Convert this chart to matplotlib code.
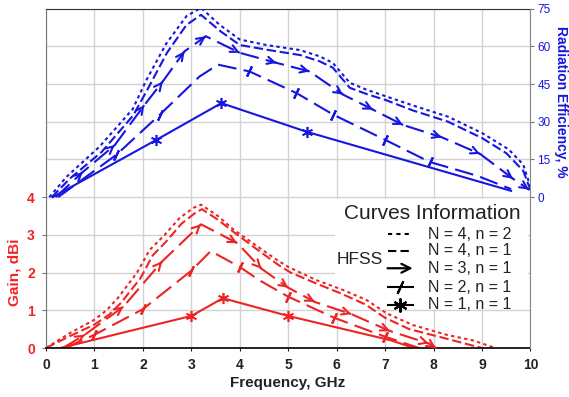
import matplotlib.pyplot as plt
from matplotlib.patches import Rectangle

plt.rcParams['font.family'] = ['Liberation Sans', 'DejaVu Sans']

BLUE = '#1616e0'
RED = '#ee2424'

# ---- radiation efficiency, % (blue, right axis) ----
f_e42 = [0.07, 0.42, 1.1, 1.79, 2.07, 2.48, 2.9, 3.2, 3.58, 4.0, 4.55, 5.24, 5.65, 5.92,
         6.27, 6.62, 7.03, 7.57, 8.3, 9.0, 9.55, 9.85, 10.0]
e_42 = [0, 8, 20, 35, 46.5, 61, 72, 75.3, 68.6, 62.7, 60.5, 58.5, 56, 53.4,
        45.5, 42.7, 40, 36.5, 32, 25.5, 19, 13, 4]
f_e41 = [0.12, 0.5, 1.15, 1.8, 2.1, 2.5, 2.9, 3.2, 3.6, 4.0, 4.6, 5.25, 5.65, 5.92,
         6.27, 6.62, 7.03, 7.57, 8.3, 9.0, 9.5, 9.85, 10.0]
e_41 = [0, 7.5, 18, 32.5, 43, 57.5, 68.5, 72.5, 66, 60.5, 58.5, 56.5, 54, 51.5,
        43.5, 41, 38.5, 34.5, 30, 23.5, 17.5, 10.5, 2.8]
f_e31 = [0.2, 0.76, 1.42, 2.03, 2.41, 2.86, 3.3, 4.0, 4.76, 5.44, 6.13, 6.75, 7.37,
         8.17, 8.96, 9.64, 9.97]
e_31 = [0, 10, 20.7, 36.6, 46, 58, 64, 57.4, 53.4, 50, 40.8, 34.8, 28.7,
        23.8, 17.2, 7.3, 3]
f_e21 = [0.25, 1.45, 2.35, 3.17, 3.55, 4.2, 5.17, 5.93, 7.0, 7.92, 8.9, 9.6]
e_21 = [0, 16.8, 32.8, 48, 52.7, 50, 41.4, 32.8, 22.8, 14, 8.5, 3.2]
f_e11 = [0.14, 2.28, 3.62, 5.38, 9.6]
e_11 = [0, 22.8, 37.4, 26, 2.5]

# ---- gain, dBi (red, left axis) ----
f_g42 = [0, 0.5, 1.0, 1.25, 1.5, 1.88, 2.14, 2.45, 2.76, 3.05, 3.2, 3.55, 3.86, 4.3,
         4.76, 5.0, 5.58, 6.13, 6.62, 7.03, 7.57, 8.27, 8.82, 9.23]
g_42 = [0, 0.4, 0.75, 1.0, 1.35, 2.0, 2.6, 3.0, 3.45, 3.72, 3.8, 3.5, 3.15, 2.75,
        2.34, 2.15, 1.8, 1.54, 1.27, 0.92, 0.61, 0.35, 0.2, 0.02]
f_g41 = [0, 0.5, 1.0, 1.3, 1.55, 1.95, 2.2, 2.5, 2.8, 3.1, 3.22, 3.55, 3.9, 4.35,
         4.8, 5.05, 5.6, 6.1, 6.6, 7.0, 7.5, 8.2, 8.7, 9.0]
g_41 = [0, 0.32, 0.62, 0.88, 1.2, 1.85, 2.45, 2.85, 3.3, 3.6, 3.68, 3.4, 3.05, 2.62,
        2.2, 2.0, 1.7, 1.44, 1.15, 0.8, 0.5, 0.27, 0.1, 0.0]
f_g31 = [0.35, 0.8, 1.6, 2.4, 3.2, 3.95, 4.45, 5.0, 5.55, 6.3, 7.1, 7.9, 8.05]
g_31 = [0, 0.35, 1.1, 2.3, 3.28, 2.78, 2.1, 1.6, 1.22, 0.9, 0.45, 0.12, 0.0]
f_g21 = [0.4, 1.0, 2.0, 3.0, 3.4, 4.0, 4.4, 5.0, 5.95, 7.0, 7.7]
g_21 = [0, 0.35, 1.03, 2.05, 2.57, 2.15, 1.8, 1.36, 0.8, 0.3, 0.0]
f_g11 = [0.3, 1.5, 3.0, 3.65, 5.0, 7.1, 7.6]
g_11 = [0, 0.38, 0.85, 1.32, 0.85, 0.21, 0.0]

legend_labels = ['N = 4, n = 2', 'N = 4, n = 1', 'N = 3, n = 1', 'N = 2, n = 1', 'N = 1, n = 1']

LW = 1.5
DOT = (0, (1.6, 1.6))
DASH = (0, (4.5, 1.8))
LDASH = (0, (9, 3.5))
TICK = (2, 2, -25)
STAR = (6, 2, 0)


def arrowheads(ax, x, y, color):
    for i in range(1, len(x)):
        ax.annotate('', xy=(x[i], y[i]),
                    xytext=(x[i] - 0.02 * (x[i] - x[i - 1]), y[i] - 0.02 * (y[i] - y[i - 1])),
                    arrowprops=dict(arrowstyle='->', color=color, lw=LW, shrinkA=0, shrinkB=0,
                                    mutation_scale=13))


def draw_set(ax, c, d42, d41, d31, d21, d11, m21, m11):
    ax.plot(*d42, color=c, lw=LW, ls=DOT)
    ax.plot(*d41, color=c, lw=LW, ls=DASH)
    ax.plot(*d31, color=c, lw=LW, ls=LDASH)
    arrowheads(ax, d31[0], d31[1], c)
    ax.plot(*d21, color=c, lw=LW, ls=LDASH, marker=TICK, ms=8, mew=LW, markevery=m21)
    ax.plot(*d11, color=c, lw=LW, marker=STAR, ms=8, mew=1.2, markevery=m11)


fig = plt.figure(figsize=(5.69, 3.97), dpi=100)
ax = fig.add_axes([0.0808, 0.1234, 0.8515, 0.855])
ax2 = ax.twinx()

ax.set_xlim(0, 10)
ax.set_ylim(0, 9)
ax2.set_ylim(-60, 75)

ax.set_xticks(range(11))
ax.set_yticks(range(5))
ax.set_yticks(range(5, 10), minor=True)
ax.grid(True, which='both', color='#d2d2d2', lw=1)
ax.set_axisbelow(True)
ax.tick_params(axis='y', which='minor', length=0)
ax.tick_params(axis='x', length=2, pad=5, labelsize=10, colors='#222222')
ax.tick_params(axis='y', which='major', length=3, pad=5, labelsize=10, labelcolor=RED, color='#777777')
for lab in ax.get_xticklabels() + ax.get_yticklabels():
    lab.set_fontweight('bold')

ax2.set_yticks(range(0, 76, 15))
ax2.tick_params(axis='y', length=3, pad=2, labelsize=8.5, labelcolor=BLUE, color='#777777')

for s in ['top', 'left', 'right', 'bottom']:
    ax2.spines[s].set_visible(s == 'right')
ax2.spines['right'].set_color('#888888')
ax.spines['right'].set_visible(False)
ax.spines['top'].set_color('#333333')
ax.spines['left'].set_color('#777777')
ax.spines['bottom'].set_color('#111111')
ax.spines['bottom'].set_linewidth(1.3)

# legend box (hides the grid behind it)
ax.add_patch(Rectangle((0.596, 0.115), 0.399, 0.324, transform=ax.transAxes,
                       facecolor='white', edgecolor='none', zorder=1.5))

draw_set(ax, RED, (f_g42, g_42), (f_g41, g_41), (f_g31, g_31), (f_g21, g_21), (f_g11, g_11),
         [1, 2, 3, 5, 7, 8, 9], [2, 3, 4])
draw_set(ax2, BLUE, (f_e42, e_42), (f_e41, e_41), (f_e31, e_31), (f_e21, e_21), (f_e11, e_11),
         [1, 2, 5, 6, 7, 8, 9], [1, 2, 3])

# legend ("Curves Information")
ax.text(0.797, 0.395, 'Curves Information', transform=ax.transAxes, ha='center', va='center',
        fontsize=15, color='#222222', zorder=5)
ax.text(0.600, 0.262, 'HFSS', transform=ax.transAxes, ha='left', va='center',
        fontsize=12.5, color='#222222', zorder=5)
rows = [0.335, 0.286, 0.235, 0.179, 0.127]
kx = [0.705, 0.757]
for y, lab in zip(rows, legend_labels):
    ax.text(0.788, y, lab, transform=ax.transAxes, ha='left', va='center',
            fontsize=11.5, color='#222222', zorder=5)
ax.plot(kx, [rows[0]] * 2, transform=ax.transAxes, color='k', lw=1.5, ls=(0, (2, 2)), zorder=5)
ax.plot(kx, [rows[1]] * 2, transform=ax.transAxes, color='k', lw=1.5, ls=(0, (4, 2)), zorder=5)
ax.annotate('', xy=(kx[1], rows[2]), xytext=(kx[0], rows[2]), xycoords='axes fraction',
            arrowprops=dict(arrowstyle='->', color='k', lw=1.6, shrinkA=0, shrinkB=0,
                            mutation_scale=16), zorder=5)
ax.plot(kx, [rows[3]] * 2, transform=ax.transAxes, color='k', lw=1.5, zorder=5)
ax.plot([sum(kx) / 2], [rows[3]], transform=ax.transAxes, color='k', marker=TICK, ms=10,
        mew=1.5, zorder=5)
ax.plot(kx, [rows[4]] * 2, transform=ax.transAxes, color='k', lw=1.5, zorder=5)
ax.plot([sum(kx) / 2], [rows[4]], transform=ax.transAxes, color='k', marker=STAR, ms=10,
        mew=1.5, zorder=5)

# axis titles
ax.text(-0.065, 0.224, 'Gain, dBi', transform=ax.transAxes, rotation=90, ha='center',
        va='center', color=RED, fontsize=11, fontweight='bold')
ax2.text(1.063, 0.725, 'Radiation Efficiency, %', transform=ax2.transAxes, rotation=-90,
         ha='center', va='center', color=BLUE, fontsize=10, fontweight='bold')
ax.text(0.498, -0.103, 'Frequency, GHz', transform=ax.transAxes, ha='center', va='center',
        fontsize=11, fontweight='bold', color='#222222')

fig.savefig('out.png', dpi=100)
